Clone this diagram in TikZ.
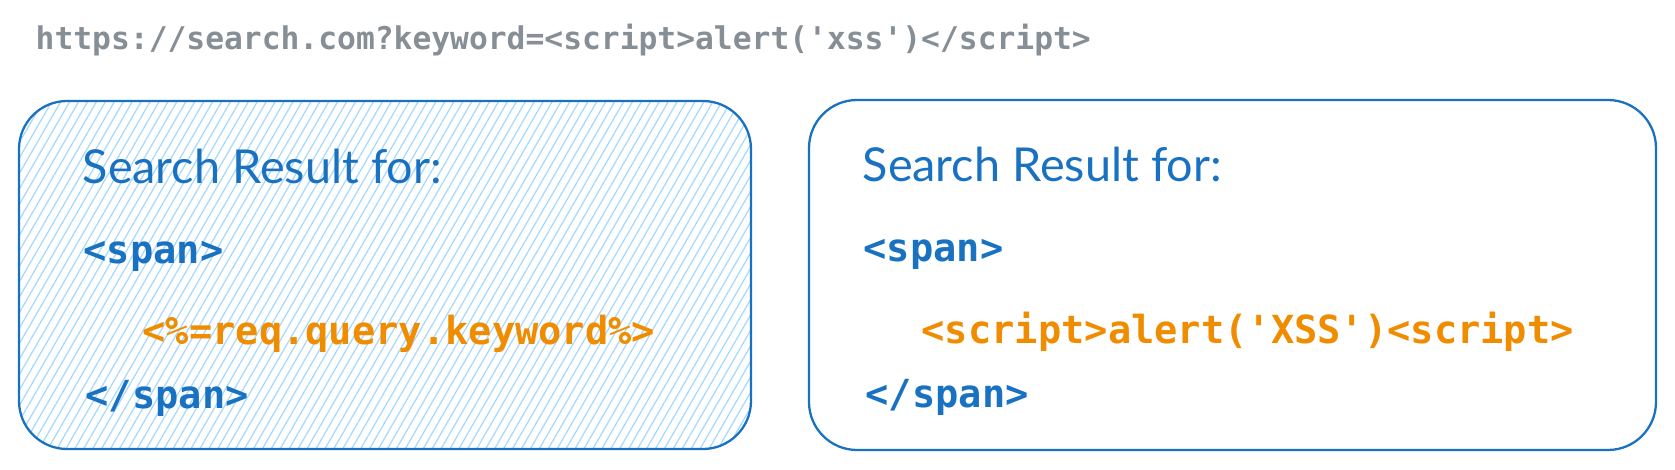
\documentclass[tikz,border=0pt]{standalone}
\usepackage{fontspec}
\setmonofont{DejaVu Sans Mono}
\newfontfamily\handfont{Lato}
\usetikzlibrary{patterns.meta}
\definecolor{urlgray}{HTML}{868E96}
\definecolor{codeblue}{HTML}{1971C2}
\definecolor{codeorange}{HTML}{F08C00}
\definecolor{hatchblue}{HTML}{A5D8FF}
\tikzset{
  resultbox/.style={draw=codeblue, line width=0.65pt, rounded corners=0.48cm},
  urltext/.style={anchor=west, inner sep=0, text=urlgray,
    font=\ttfamily\bfseries\fontsize{8.9}{11}\selectfont},
  headtext/.style={anchor=west, inner sep=0, text=codeblue,
    font=\handfont\fontsize{13.3}{15}\selectfont},
  tagtext/.style={anchor=west, inner sep=0, text=codeblue,
    font=\ttfamily\bfseries\fontsize{11}{13}\selectfont},
  payload/.style={tagtext, text=codeorange}
}

\begin{document}
\begin{tikzpicture}[x=0.01cm, y=-0.01cm]
  \useasboundingbox (0,0) rectangle (1675,470);

  \node[urltext] (url) at (35,40)
    {https://search.com?keyword=<script>alert('xss')</script>};

  % template side
  \fill[pattern={Lines[angle=60, distance=2.2pt, line width=0.35pt]},
    pattern color=hatchblue, rounded corners=0.48cm] (19,101) rectangle (751,449);
  \draw[resultbox] (19,101) rectangle (751,449);
  \node[headtext] (tplhead) at (82,166) {Search Result for:};
  \node[tagtext] (tplopen) at (83,256) {<span>};
  \node[payload] (tplvar) at (142,334) {<\%=req.query.keyword\%>};
  \node[tagtext] (tplclose) at (85,398) {</span>};

  % rendered side
  \draw[resultbox] (809,100) rectangle (1656,450);
  \node[headtext] (outhead) at (862,164) {Search Result for:};
  \node[tagtext] (outopen) at (863,254) {<span>};
  \node[payload] (outvar) at (921,332) {<script>alert('XSS')<script>};
  \node[tagtext] (outclose) at (865,397) {</span>};

\end{tikzpicture}
\end{document}
